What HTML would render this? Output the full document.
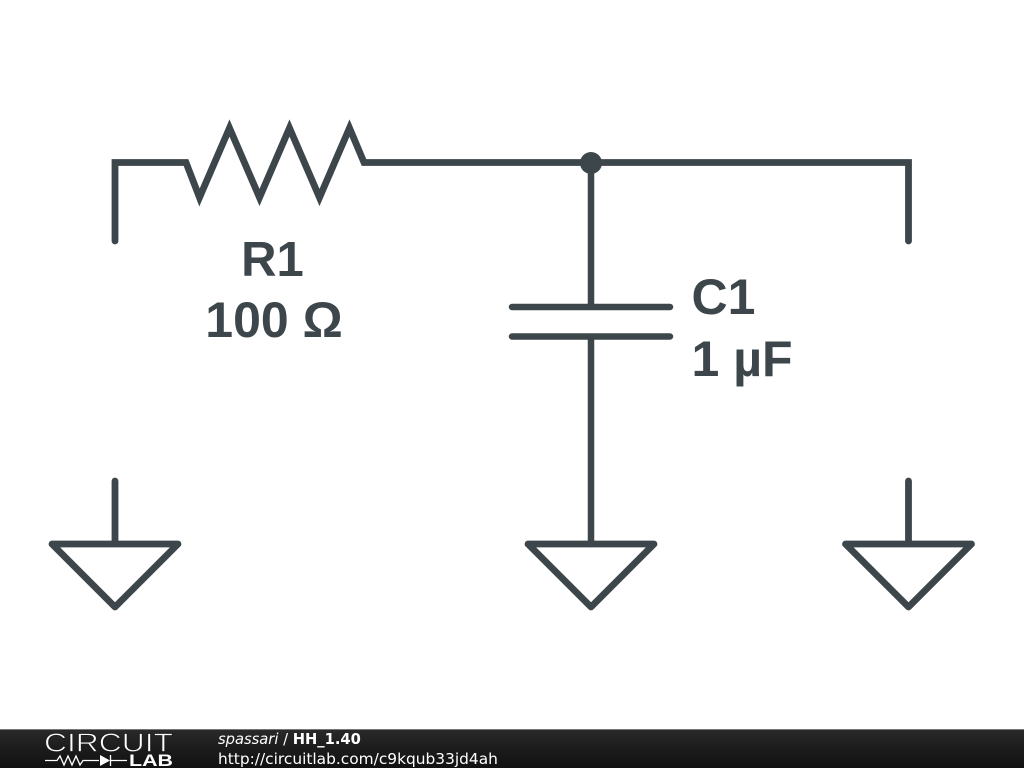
<!DOCTYPE html>
<html>
<head>
<meta charset="utf-8">
<style>
html,body{margin:0;padding:0;background:#fff;width:1024px;height:768px;overflow:hidden}
svg{display:block}
</style>
</head>
<body>
<svg width="1024" height="768" viewBox="0 0 1024 768" xmlns="http://www.w3.org/2000/svg">
<defs>
<linearGradient id="f" x1="0" y1="0" x2="0" y2="1">
<stop offset="0" stop-color="#2a2a2a"/>
<stop offset="0.5" stop-color="#1c1c1c"/>
<stop offset="1" stop-color="#111"/>
</linearGradient>
</defs>
<rect width="1024" height="768" fill="#fff"/>
<g fill="none" stroke="#3d464b" stroke-width="6.500" stroke-linecap="round" stroke-linejoin="miter">
<path d="M115 241V162.500H186L199.500 197.500L229.500 128L259.500 197.500L289.500 128L319.500 197.500L349.500 128L364 162.500H908.500V241" stroke-width="6.800"/>
<path d="M591 162V306M591 337V544"/>
<path d="M512 307H670M512 336.500H670"/>
<path d="M115 481V544M52 544H178L115 607Z" stroke-linejoin="round" stroke-width="6.800"/>
<path d="M528 544H654L591 607Z" stroke-linejoin="round" stroke-width="6.800"/>
<path d="M908.500 481V544M845.500 544H971.500L908.500 607Z" stroke-linejoin="round" stroke-width="6.800"/>
</g>
<circle cx="591" cy="163" r="11" fill="#3d464b"/>
<g font-family="'Liberation Sans',sans-serif" font-weight="bold" font-size="50" fill="#3d464b">
<text x="272.500" y="276" text-anchor="middle" font-size="49">R1</text>
<text x="274" y="337" text-anchor="middle">100 Ω</text>
<text x="691.500" y="314">C1</text>
<text x="691.500" y="376">1 µF</text>
</g>
<rect x="0" y="729" width="1024" height="39" fill="url(#f)"/>
<rect x="0" y="729" width="1024" height="1" fill="#777"/>
<text x="44" y="751.500" font-family="'Liberation Sans',sans-serif" font-size="26" fill="#fff" stroke="#1f1f1f" stroke-width="0.800" textLength="129" lengthAdjust="spacingAndGlyphs">CIRCUIT</text>
<text x="129" y="766" font-family="'Liberation Sans',sans-serif" font-size="17" font-weight="bold" fill="#fff" textLength="44" lengthAdjust="spacingAndGlyphs">LAB</text>
<g fill="none" stroke="#fff" stroke-width="1.300">
<path d="M45 760.500H57L60 756L64 765L68 756L72 765L76 756L80 765L83 760.500H99M111 760.500H127M110.500 755V766"/>
</g>
<path d="M100 755V766L110 760.500Z" fill="#fff"/>
<g font-family="'DejaVu Sans',sans-serif" font-size="15.400" fill="#fff">
<text x="218" y="744" font-size="14.700"><tspan font-style="italic">spassari</tspan> / <tspan font-weight="bold">HH_1.40</tspan></text>
<text x="218" y="764">http://circuitlab.com/c9kqub33jd4ah</text>
</g>
</svg>
</body>
</html>
